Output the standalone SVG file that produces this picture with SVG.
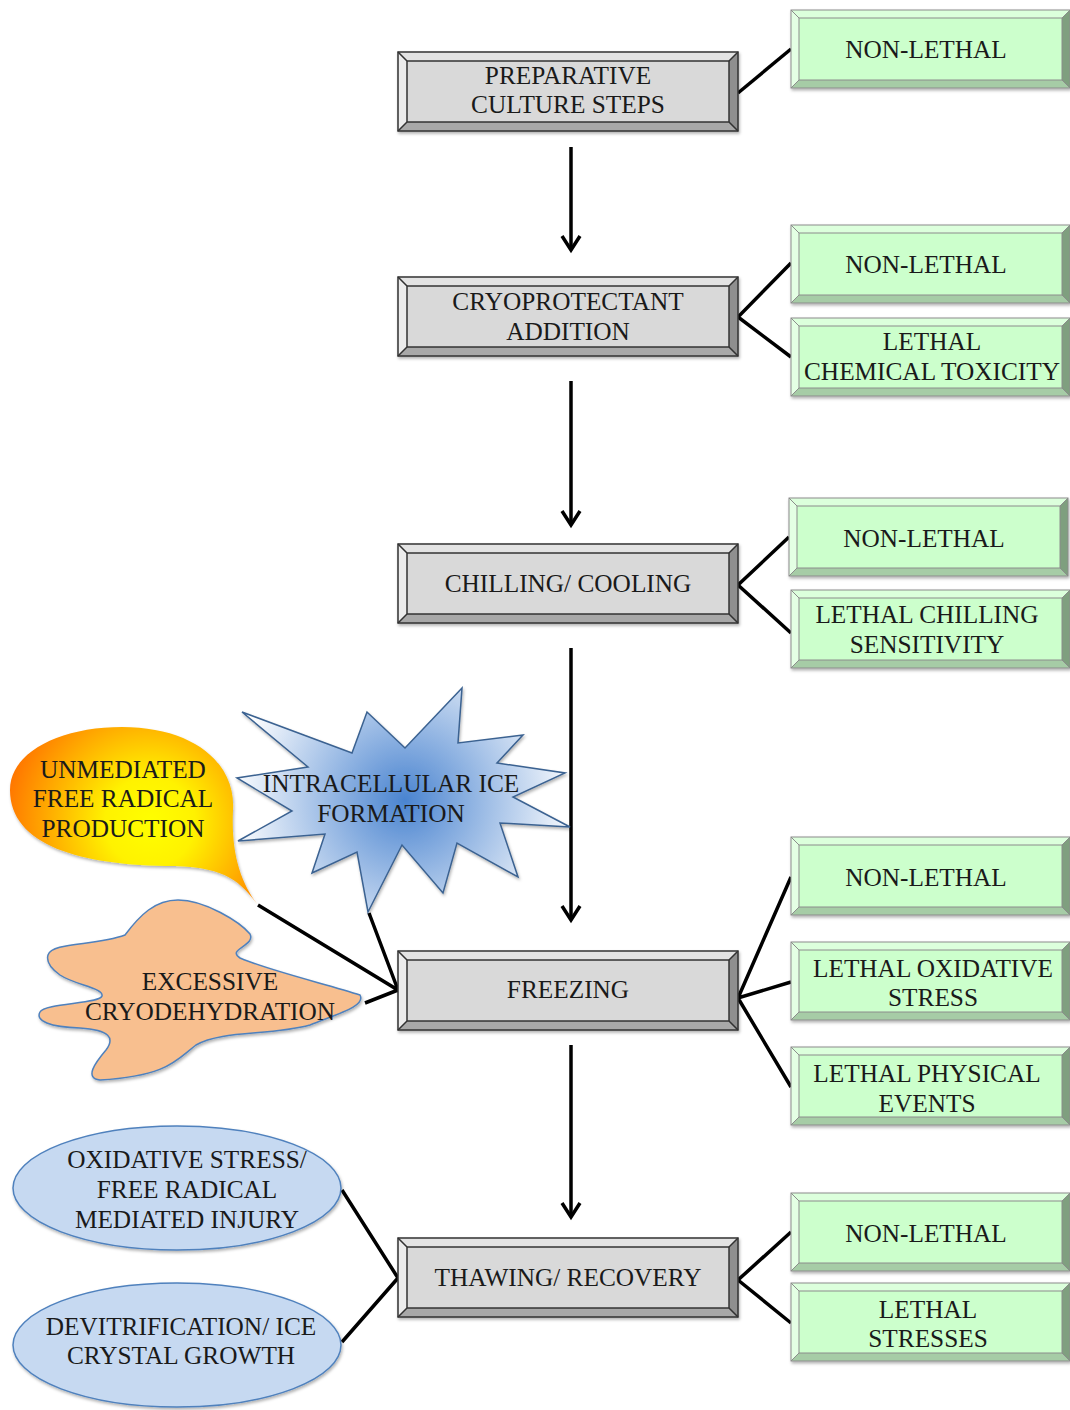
<svg xmlns="http://www.w3.org/2000/svg" xmlns:xlink="http://www.w3.org/1999/xlink" width="1070" height="1410" viewBox="0 0 1070 1410">
<style>
.t{font-family:"Liberation Serif","Times New Roman",serif;font-size:25.3px;fill:#1a1a1a;text-anchor:middle}
.con{stroke:#000;stroke-width:3.5;fill:none;stroke-linecap:butt}
.arr{stroke:#000;stroke-width:3.5;fill:none}
</style>
<defs>
<filter id="sh" x="-5%" y="-5%" width="110%" height="115%">
<feDropShadow dx="1" dy="2" stdDeviation="1.5" flood-color="#000" flood-opacity="0.3"/>
</filter>
<marker id="ah" markerUnits="userSpaceOnUse" viewBox="-2 -2 20 22" refX="14" refY="9" markerWidth="20" markerHeight="22" orient="auto">
<path d="M0,0 L14,9 L0,18" fill="none" stroke="#000" stroke-width="3.5"/>
</marker>
<radialGradient id="gOrange" gradientUnits="userSpaceOnUse" cx="150" cy="822" r="150">
<stop offset="0" stop-color="#ffff00"/>
<stop offset="0.3" stop-color="#fff200"/>
<stop offset="1" stop-color="#ff7000"/>
</radialGradient>
<radialGradient id="gBlue" gradientUnits="userSpaceOnUse" cx="405" cy="800" r="175">
<stop offset="0" stop-color="#4a84d0"/>
<stop offset="1" stop-color="#ffffff"/>
</radialGradient>
<g id="grayBox">
<rect x="0" y="0" width="340" height="79" fill="#d9d9d9"/>
<polygon points="0,0 340,0 331,9 9,9" fill="#e3e3e3"/>
<polygon points="0,0 9,9 9,70 0,79" fill="#ececec"/>
<polygon points="340,0 340,79 331,70 331,9" fill="#8f8f8f"/>
<polygon points="0,79 9,70 331,70 340,79" fill="#a8a8a8"/>
<g stroke="#333" stroke-width="1.5" fill="none">
<rect x="0" y="0" width="340" height="79"/>
<rect x="9" y="9" width="322" height="61"/>
<path d="M0,0 L9,9 M340,0 L331,9 M0,79 L9,70 M340,79 L331,70"/>
</g>
</g>
<g id="greenBox">
<rect x="0" y="0" width="279" height="78" fill="#ccffcc"/>
<polygon points="0,0 279,0 271,8 8,8" fill="#dcffdc"/>
<polygon points="0,0 8,8 8,70 0,78" fill="#e4ffe4"/>
<polygon points="279,0 279,78 271,70 271,8" fill="#7f9f7f"/>
<polygon points="0,78 8,70 271,70 279,78" fill="#a6cca6"/>
<g stroke="#8c8c8c" stroke-width="1" fill="none">
<rect x="0" y="0" width="279" height="78"/>
<rect x="8" y="8" width="263" height="62"/>
<path d="M0,0 L8,8 M279,0 L271,8 M0,78 L8,70 M279,78 L271,70"/>
</g>
</g>
</defs>
<rect width="1070" height="1410" fill="#fff"/>

<g id="connectors">
<line class="arr" x1="571" y1="147" x2="571" y2="250" marker-end="url(#ah)"/>
<line class="arr" x1="571" y1="381" x2="571" y2="525" marker-end="url(#ah)"/>
<line class="arr" x1="571" y1="648" x2="571" y2="920" marker-end="url(#ah)"/>
<line class="arr" x1="571" y1="1045" x2="571" y2="1217" marker-end="url(#ah)"/>
<path class="con" d="M738,93 L791,49"/>
<path class="con" d="M791,263 L738,317 L791,357"/>
<path class="con" d="M789,537 L738,585 L791,633"/>
<path class="con" d="M791,877 L738,998 L791,982 M738,998 L791,1087"/>
<path class="con" d="M791,1232 L738,1280 L791,1323"/>
<path class="con" d="M258,905 L398,990 L369,913 M365,1003 L398,990"/>
<path class="con" d="M342,1190 L398,1278 L342,1342"/>
</g>

<g id="n-preparative" transform="translate(398,52)" filter="url(#sh)">
<use xlink:href="#grayBox"/>
</g>
<g id="t-preparative"><text class="t" x="568" y="84">PREPARATIVE</text><text class="t" x="568" y="113">CULTURE STEPS</text></g>

<g id="n-cryoprotectant" transform="translate(398,277)" filter="url(#sh)">
<use xlink:href="#grayBox"/>
</g>
<g id="t-cryoprotectant"><text class="t" x="568" y="310">CRYOPROTECTANT</text><text class="t" x="568" y="340">ADDITION</text></g>

<g id="n-chilling" transform="translate(398,544)" filter="url(#sh)">
<use xlink:href="#grayBox"/>
</g>
<g id="t-chilling"><text class="t" x="568" y="592">CHILLING/ COOLING</text></g>

<g id="n-freezing" transform="translate(398,951)" filter="url(#sh)">
<use xlink:href="#grayBox"/>
</g>
<g id="t-freezing"><text class="t" x="568" y="998">FREEZING</text></g>

<g id="n-thawing" transform="translate(398,1238)" filter="url(#sh)">
<use xlink:href="#grayBox"/>
</g>
<g id="t-thawing"><text class="t" x="568" y="1286">THAWING/ RECOVERY</text></g>

<g id="g1"><use xlink:href="#greenBox" x="791" y="10" filter="url(#sh)"/><text class="t" x="926" y="58">NON-LETHAL</text></g>
<g id="g2"><use xlink:href="#greenBox" x="791" y="225" filter="url(#sh)"/><text class="t" x="926" y="273">NON-LETHAL</text></g>
<g id="g3"><use xlink:href="#greenBox" x="791" y="318" filter="url(#sh)"/><text class="t" x="932" y="350">LETHAL</text><text class="t" x="932" y="380">CHEMICAL TOXICITY</text></g>
<g id="g4"><use xlink:href="#greenBox" x="789" y="498" filter="url(#sh)"/><text class="t" x="924" y="547">NON-LETHAL</text></g>
<g id="g5"><use xlink:href="#greenBox" x="791" y="590" filter="url(#sh)"/><text class="t" x="927" y="623">LETHAL CHILLING</text><text class="t" x="927" y="653">SENSITIVITY</text></g>
<g id="g6"><use xlink:href="#greenBox" x="791" y="837" filter="url(#sh)"/><text class="t" x="926" y="886">NON-LETHAL</text></g>
<g id="g7"><use xlink:href="#greenBox" x="791" y="942" filter="url(#sh)"/><text class="t" x="933" y="977">LETHAL OXIDATIVE</text><text class="t" x="933" y="1006">STRESS</text></g>
<g id="g8"><use xlink:href="#greenBox" x="791" y="1047" filter="url(#sh)"/><text class="t" x="927" y="1082">LETHAL PHYSICAL</text><text class="t" x="927" y="1112">EVENTS</text></g>
<g id="g9"><use xlink:href="#greenBox" x="791" y="1193" filter="url(#sh)"/><text class="t" x="926" y="1242">NON-LETHAL</text></g>
<g id="g10"><use xlink:href="#greenBox" x="791" y="1283" filter="url(#sh)"/><text class="t" x="928" y="1318">LETHAL</text><text class="t" x="928" y="1347">STRESSES</text></g>

<g id="n-unmediated">
<path d="M258,905 C240,882 228,868 175,866 C80,866 10,845 10,790 C10,752 60,727 122,727 C192,727 236,762 233,810 C231,852 240,882 258,905 Z" fill="url(#gOrange)" filter="url(#sh)"/>
<text class="t" x="123" y="778">UNMEDIATED</text><text class="t" x="123" y="807">FREE RADICAL</text><text class="t" x="123" y="837">PRODUCTION</text>
</g>

<g id="n-intracellular">
<polygon points="242,712 352,753 367,712 405,748 462,688 458,743 523,735 497,763 565,773 513,797 570,827 500,823 518,877 457,843 443,893 402,845 368,912 357,852 312,873 325,834 238,841 292,811 237,778 308,767" fill="url(#gBlue)" stroke="#3b6291" stroke-width="1.5" stroke-linejoin="miter" filter="url(#sh)"/>
<text class="t" x="391" y="792">INTRACELLULAR ICE</text><text class="t" x="391" y="822">FORMATION</text>
</g>

<g id="n-cryodehydration">
<path d="M48,955 C52,942 95,946 125,935 C140,915 155,900 178,900 C205,900 240,922 250,934 C256,946 226,949 240,958 C270,971 330,985 360,995 C366,1006 340,1013 310,1025 C270,1036 222,1030 196,1045 C176,1060 168,1076 100,1080 C84,1078 95,1063 106,1050 C115,1038 110,1030 80,1028 C50,1027 35,1021 40,1012 C45,1003 100,1004 102,996 C104,988 75,985 60,975 C50,968 46,962 48,955 Z" fill="#f8bf8f" stroke="#4f81bd" stroke-width="1.5" filter="url(#sh)"/>
<text class="t" x="210" y="990">EXCESSIVE</text><text class="t" x="210" y="1020">CRYODEHYDRATION</text>
</g>

<g id="n-oxidative">
<ellipse cx="177" cy="1188" rx="164" ry="62" fill="#c6d9f1" stroke="#4f81bd" stroke-width="1.5" filter="url(#sh)"/>
<text class="t" x="187" y="1168">OXIDATIVE STRESS/</text><text class="t" x="187" y="1198">FREE RADICAL</text><text class="t" x="187" y="1228">MEDIATED INJURY</text>
</g>

<g id="n-devitrification">
<ellipse cx="177" cy="1345" rx="164" ry="62" fill="#c6d9f1" stroke="#4f81bd" stroke-width="1.5" filter="url(#sh)"/>
<text class="t" x="181" y="1335">DEVITRIFICATION/ ICE</text><text class="t" x="181" y="1364">CRYSTAL GROWTH</text>
</g>
</svg>
